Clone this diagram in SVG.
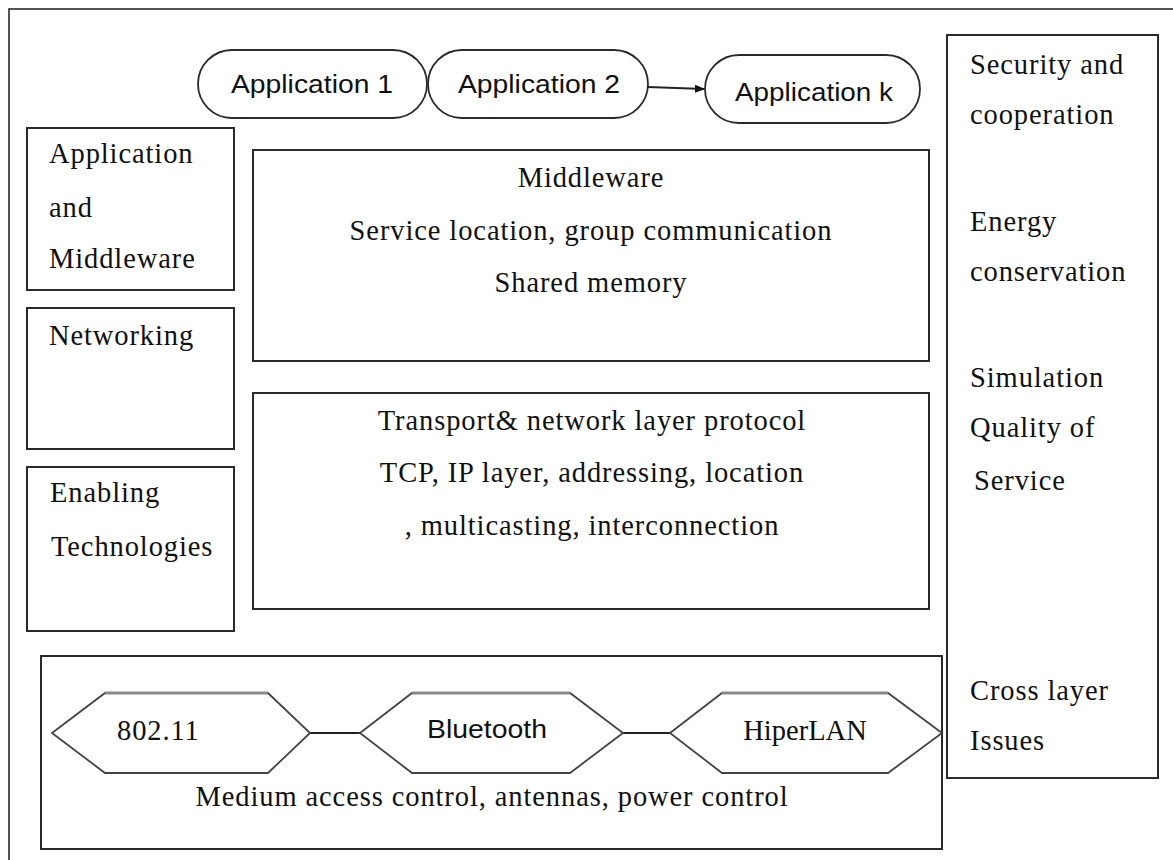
<svg xmlns="http://www.w3.org/2000/svg" width="1173" height="860" viewBox="0 0 1173 860">
<style>
.box{fill:#fff;stroke:#2a2a2a;stroke-width:2}
.oval{fill:#fff;stroke:#2a2a2a;stroke-width:1.8}
.hex{fill:#fff;stroke:#444;stroke-width:1.8}
.top{stroke:#888;stroke-width:3;fill:none}
.con{stroke:#222;stroke-width:2;fill:none}
.s{font-family:"Liberation Serif","Times New Roman",serif;font-size:28.5px;fill:#111;letter-spacing:0.9px}
.c{text-anchor:middle}
.ss{font-family:"Liberation Sans",Arial,sans-serif;font-size:26px;fill:#111}
</style>
<defs>
<marker id="arr" markerWidth="10" markerHeight="10" refX="9" refY="5" orient="auto" markerUnits="userSpaceOnUse">
<path d="M0,1 L10,5 L0,9 z" fill="#111"/>
</marker>
</defs>
<rect x="9" y="9" width="1200" height="900" fill="#fff" stroke="#2a2a2a" stroke-width="1.6"/>

<g id="app1"><rect class="oval" x="198" y="50" width="229" height="68" rx="34"/><text class="ss c" x="312" y="93" textLength="162" lengthAdjust="spacingAndGlyphs">Application 1</text></g>
<g id="app2"><rect class="oval" x="428" y="50" width="220" height="68" rx="34"/><text class="ss c" x="539" y="93" textLength="162" lengthAdjust="spacingAndGlyphs">Application 2</text></g>
<g id="appk"><rect class="oval" x="705" y="55" width="215" height="68" rx="34"/><text class="ss c" x="814" y="101" textLength="158" lengthAdjust="spacingAndGlyphs">Application k</text></g>

<g id="app-middleware"><rect class="box" x="27" y="128" width="207" height="162"/>
<text class="s" x="49" y="163">Application</text><text class="s" x="49" y="217">and</text><text class="s" x="49" y="268">Middleware</text></g>
<g id="networking"><rect class="box" x="27" y="308" width="207" height="141"/><text class="s" x="49" y="345">Networking</text></g>
<g id="enabling"><rect class="box" x="27" y="467" width="207" height="164"/>
<text class="s" x="50" y="502">Enabling</text><text class="s" x="51" y="556">Technologies</text></g>

<g id="middleware"><rect class="box" x="253" y="150" width="676" height="211"/>
<text class="s c" x="591" y="187">Middleware</text>
<text class="s c" x="591" y="240">Service location, group communication</text>
<text class="s c" x="591" y="292">Shared memory</text></g>

<g id="transport"><rect class="box" x="253" y="393" width="676" height="216"/>
<text class="s c" x="592" y="430">Transport&amp; network layer protocol</text>
<text class="s c" x="592" y="482">TCP, IP layer, addressing, location</text>
<text class="s c" x="592" y="535">, multicasting, interconnection</text></g>

<g id="cross-cutting"><rect class="box" x="947" y="35" width="211" height="743"/>
<text class="s" x="970" y="74">Security and</text><text class="s" x="970" y="124">cooperation</text>
<text class="s" x="970" y="231">Energy</text><text class="s" x="970" y="281">conservation</text>
<text class="s" x="970" y="387">Simulation</text><text class="s" x="970" y="437">Quality of</text><text class="s" x="974" y="490">Service</text>
<text class="s" x="970" y="700">Cross layer</text><text class="s" x="970" y="750">Issues</text></g>

<g id="enabling-tech"><rect class="box" x="41" y="656" width="901" height="193"/>
<text class="s c" x="492" y="806">Medium access control, antennas, power control</text></g>

<g id="connectors">
<line class="con" x1="648" y1="87" x2="704" y2="89" marker-end="url(#arr)"/>
<line class="con" x1="310" y1="733" x2="360" y2="733"/>
<line class="con" x1="623" y1="733" x2="670" y2="733"/>
</g>

<g id="wifi"><polygon class="hex" points="52,733 105,693 268,693 310,733 268,773 105,773"/><line class="top" x1="105" y1="693" x2="268" y2="693"/><text class="s" x="117" y="740">802.11</text></g>
<g id="bluetooth"><polygon class="hex" points="360,733 412,693 570,693 623,733 570,773 412,773"/><line class="top" x1="412" y1="693" x2="570" y2="693"/><text class="ss c" x="487" y="738" textLength="120" lengthAdjust="spacingAndGlyphs">Bluetooth</text></g>
<g id="hiperlan"><polygon class="hex" points="670,733 722,693 888,693 942,733 888,773 722,773"/><line class="top" x1="722" y1="693" x2="888" y2="693"/><text class="s c" x="805" y="740" style="letter-spacing:0">HiperLAN</text></g>
</svg>
